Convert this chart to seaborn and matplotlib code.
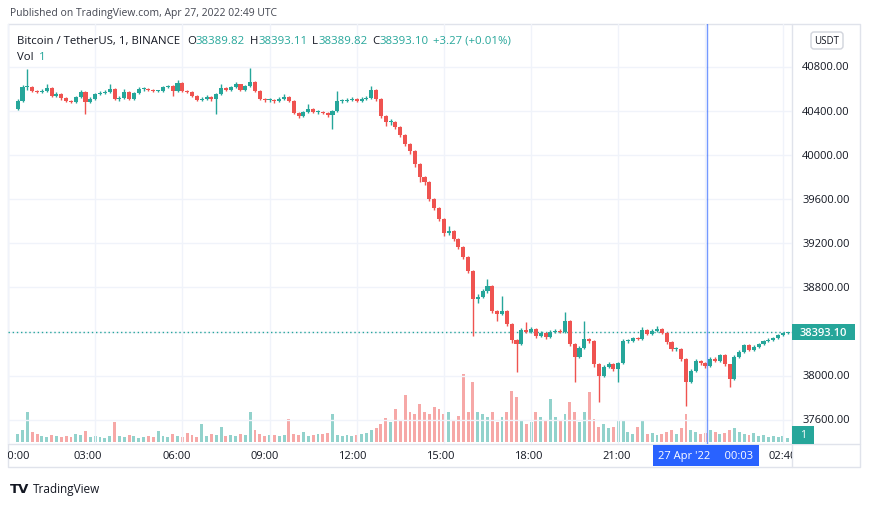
"""
plot.py — BTC/USDT 1-min chart (Binance, 26–27 Apr 2022) redrawn TradingView-style.
Candles are read off the published chart in 10-minute steps.
"""

import numpy as np
import pandas as pd
import matplotlib
matplotlib.use("Agg")
import matplotlib.pyplot as plt
from matplotlib.patches import Rectangle, FancyBboxPatch
import seaborn as sns


# ── Data ───────────────────────────────────────────────────────────────────

first_open = 40420
start = "2022-04-26 00:20"

closes = [
    40492, 40619, 40619, 40582, 40573, 40582, 40610, 40537, 40555, 40519,
    40492, 40483, 40528, 40573, 40483, 40510, 40555, 40564, 40573, 40601,
    40510, 40519, 40573, 40510, 40564, 40601, 40601, 40591, 40582, 40582,
    40619, 40628, 40582, 40655, 40582, 40573, 40537, 40501, 40510, 40528,
    40510, 40555, 40610, 40591, 40619, 40646, 40591, 40628, 40664, 40582,
    40510, 40501, 40501, 40492, 40510, 40528, 40492, 40383, 40356, 40392,
    40419, 40392, 40392, 40383, 40365, 40401, 40492, 40492, 40501, 40510,
    40492, 40510, 40519, 40591, 40510, 40356, 40301, 40301, 40256, 40183,
    40102, 40038, 39920, 39802, 39757, 39603, 39521, 39421, 39294, 39312,
    39240, 39168, 39077, 38950, 38696, 38714, 38768, 38814, 38587, 38560,
    38587, 38469, 38324, 38288, 38415, 38397, 38424, 38360, 38387, 38351,
    38397, 38406, 38397, 38496, 38288, 38170, 38251, 38333, 38315, 38106,
    37997, 38079, 38106, 38061, 38115, 38315, 38315, 38342, 38333, 38415,
    38378, 38406, 38424, 38387, 38306, 38242, 38242, 38152, 37943, 38043,
    38134, 38115, 38088, 38152, 38134, 38188, 38106, 37970, 38170, 38215,
    38279, 38233, 38260, 38288, 38315, 38324, 38342, 38369, 38387, 38393.10,
]

highs = [
    40510, 40640, 40780, 40630, 40595, 40600, 40646, 40615, 40570, 40565,
    40530, 40505, 40540, 40590, 40580, 40525, 40565, 40580, 40590, 40646,
    40610, 40535, 40601, 40580, 40575, 40615, 40615, 40610, 40600, 40595,
    40630, 40640, 40635, 40682, 40660, 40595, 40580, 40545, 40525, 40546,
    40540, 40565, 40646, 40620, 40630, 40660, 40650, 40640, 40790, 40670,
    40590, 40520, 40515, 40510, 40525, 40555, 40535, 40500, 40395, 40405,
    40464, 40425, 40410, 40400, 40395, 40410, 40582, 40510, 40520, 40525,
    40520, 40525, 40535, 40628, 40600, 40520, 40365, 40330, 40310, 40265,
    40195, 40110, 40045, 39930, 39815, 39765, 39615, 39530, 39430, 39358,
    39325, 39250, 39180, 39085, 38960, 38740, 38790, 38877, 38820, 38600,
    38723, 38600, 38480, 38335, 38430, 38487, 38440, 38435, 38405, 38395,
    38410, 38420, 38425, 38578, 38505, 38295, 38265, 38496, 38345, 38320,
    38115, 38095, 38120, 38115, 38125, 38330, 38335, 38355, 38350, 38442,
    38420, 38420, 38451, 38430, 38395, 38315, 38260, 38250, 38160, 38060,
    38150, 38145, 38125, 38170, 38165, 38200, 38195, 38110, 38185, 38230,
    38290, 38285, 38275, 38300, 38325, 38340, 38355, 38380, 38400, 38400,
]

lows = [
    40410, 40485, 40590, 40570, 40560, 40565, 40575, 40528, 40525, 40505,
    40480, 40470, 40475, 40520, 40374, 40470, 40500, 40545, 40555, 40565,
    40500, 40495, 40510, 40500, 40505, 40555, 40585, 40580, 40570, 40570,
    40575, 40605, 40537, 40575, 40570, 40560, 40525, 40490, 40490, 40500,
    40495, 40374, 40545, 40580, 40585, 40610, 40580, 40585, 40620, 40570,
    40500, 40485, 40485, 40475, 40485, 40500, 40480, 40370, 40340, 40345,
    40385, 40380, 40375, 40370, 40350, 40238, 40395, 40475, 40480, 40490,
    40480, 40485, 40500, 40510, 40495, 40340, 40265, 40275, 40235, 40165,
    40080, 40015, 39895, 39757, 39730, 39580, 39500, 39400, 39270, 39280,
    39220, 39145, 39055, 38930, 38360, 38660, 38700, 38750, 38570, 38500,
    38550, 38450, 38300, 38034, 38280, 38385, 38385, 38345, 38350, 38335,
    38340, 38385, 38385, 38390, 38270, 37943, 38160, 38240, 38295, 38080,
    37761, 37985, 38065, 38045, 37943, 38105, 38300, 38305, 38320, 38325,
    38365, 38370, 38395, 38375, 38290, 38225, 38225, 38130, 37725, 37930,
    38035, 38100, 38070, 38080, 38120, 38125, 38090, 37898, 37960, 38160,
    38205, 38220, 38225, 38250, 38280, 38305, 38315, 38335, 38360, 38380,
]

# relative volume (bar height)
volumes = [
    8, 12, 30, 10, 8, 6, 5, 7, 6, 5,
    6, 5, 8, 7, 11, 5, 6, 5, 4, 6,
    20, 6, 5, 7, 6, 4, 5, 6, 5, 11,
    6, 5, 8, 6, 5, 9, 7, 5, 18, 6,
    8, 7, 15, 6, 7, 6, 8, 7, 30, 12,
    8, 6, 7, 7, 6, 7, 23, 8, 7, 10,
    6, 7, 8, 8, 9, 28, 7, 6, 7, 6,
    7, 8, 9, 12, 14, 18, 24, 20, 33, 22,
    47, 30, 28, 38, 30, 28, 35, 33, 28, 30,
    22, 26, 68, 30, 60, 30, 28, 25, 30, 20,
    25, 30, 51, 45, 22, 18, 20, 30, 25, 22,
    43, 25, 22, 28, 40, 30, 20, 30, 50, 23,
    15, 18, 14, 15, 21, 21, 10, 8, 15, 21,
    8, 9, 7, 8, 10, 12, 8, 14, 28, 12,
    10, 8, 9, 12, 10, 8, 9, 12, 14, 10,
    8, 7, 9, 6, 7, 5, 6, 5, 6, 4,
]

price_ticks = [37600, 38000, 38400, 38800, 39200, 39600, 40000, 40400, 40800]
time_ticks = [0, 3, 6, 9, 12, 15, 18, 21, 24, 26 + 40 / 60]
time_labels = ["00:00", "03:00", "06:00", "09:00", "12:00", "15:00",
               "18:00", "21:00", "00:00", "02:40"]
cursor_hour = 24 + 3 / 60
cursor_label = "27 Apr '22     00:03"

UP, DOWN = "#26a69a", "#ef5350"
GRID, BORDER, TXT = "#f0f3fa", "#e0e3eb", "#131722"
W, H = 870, 506

# ── Setup ──────────────────────────────────────────────────────────────────

sns.set_theme(style="white")
plt.rcParams["font.family"] = ["Open Sans", "DejaVu Sans"]

times = pd.date_range(start, periods=len(closes), freq="10min")
df = pd.DataFrame({
    "t": (times - pd.Timestamp("2022-04-26")) / pd.Timedelta(hours=1),
    "o": [first_open] + closes[:-1],
    "h": highs, "l": lows, "c": closes, "v": volumes,
})
df["color"] = np.where(df.c >= df.o, UP, DOWN)
last = df.c.iloc[-1]

fig = plt.figure(figsize=(W / 100, H / 100), dpi=100)
fig.patch.set_facecolor("white")


def px_axes(x0, y0, x1, y1):
    """Axes placed by pixel box (top-left origin)."""
    a = fig.add_axes([x0 / W, 1 - y1 / H, (x1 - x0) / W, (y1 - y0) / H])
    a.patch.set_visible(False)
    return a


def pixel_layer():
    """Full-figure axes in pixel coords for frame and labels."""
    a = px_axes(0, 0, W, H)
    a.set_xlim(0, W)
    a.set_ylim(H, 0)
    a.axis("off")
    return a


bg = pixel_layer()

XLIM = (0.266, 26.98)
YLIM = (37380, 41190)

# ── Price pane ─────────────────────────────────────────────────────────────

ax = px_axes(8, 25, 792, 445)
ax_v = ax.twinx()
ax.set_zorder(ax_v.get_zorder() + 1)
ax.patch.set_visible(False)

ax.set_xlim(XLIM)
ax.set_ylim(YLIM)
ax.set_xticks(time_ticks)
ax.set_yticks(price_ticks)
ax.tick_params(length=0, labelbottom=False, labelleft=False)
ax.grid(True, color=GRID, lw=1)
for s in ax.spines.values():
    s.set_visible(False)

# volume overlay
ax_v.set_ylim(-2, 418)
ax_v.bar(df.t, df.v, width=0.1, color=df.color, alpha=0.5, lw=0)
ax_v.axis("off")

# candles
ax.vlines(df.t, df.l, df.h, colors=df.color, lw=1, zorder=3)
body_lo = np.minimum(df.o, df.c)
body_h = np.maximum((df.c - df.o).abs(), 8)
ax.bar(df.t, body_h, bottom=body_lo, width=0.14, color=df.color, lw=0, zorder=4)

ax.axhline(last, color=UP, lw=1, ls=(0, (1, 2)), zorder=2)
ax.axvline(cursor_hour, color="#2962ff", lw=1, alpha=0.65, zorder=5)

# ── Price scale ────────────────────────────────────────────────────────────

ax_p = px_axes(792, 25, 860, 445)
ax_p.set_ylim(YLIM)
ax_p.axis("off")
ytr = ax_p.get_yaxis_transform()
for p in price_ticks:
    if abs(p - last) < 150:
        continue
    ax_p.text(0.5, p, f"{p:.2f}", transform=ytr, ha="center", va="center",
              fontsize=8, color=TXT)
ax_p.add_patch(Rectangle((0, last - 72), 0.93, 145, transform=ytr,
                         fc=UP, ec="none"))
ax_p.text(0.465, last, f"{last:.2f}", transform=ytr, ha="center", va="center",
          fontsize=8, color="white", fontweight="semibold")

ax_pv = px_axes(792, 25, 860, 445)
ax_pv.set_ylim(ax_v.get_ylim())
ax_pv.axis("off")
vtr = ax_pv.get_yaxis_transform()
ax_pv.add_patch(Rectangle((0, volumes[-1] - 6), 0.33, 18, transform=vtr,
                          fc=UP, ec="none"))
ax_pv.text(0.165, volumes[-1] + 3, "1", transform=vtr, ha="center", va="center",
           fontsize=7.5, color="white", clip_on=True)

# ── Time scale ─────────────────────────────────────────────────────────────

ax_t = px_axes(8, 445, 792, 468)
ax_t.set_xlim(XLIM)
ax_t.set_ylim(0, 1)
ax_t.axis("off")
xtr = ax_t.get_xaxis_transform()
for h, lbl in zip(time_ticks, time_labels):
    if h < XLIM[0]:
        ax_t.annotate(lbl, xy=(0, 0.5), xycoords="axes fraction",
                      xytext=(-4.5, 0), textcoords="offset points",
                      ha="left", va="center", fontsize=8, color=TXT,
                      annotation_clip=False, clip_on=True)
    elif abs(h - cursor_hour) > 1:
        ax_t.text(h, 0.5, lbl, transform=xtr, ha="center", va="center",
                  fontsize=8, color=TXT, clip_on=True)
half = 53 / 29.27
ax_t.add_patch(Rectangle((cursor_hour - half, 0.04), 2 * half, 0.92,
                         transform=xtr, fc="#2962ff", ec="none", zorder=5))
ax_t.text(cursor_hour, 0.5, cursor_label, transform=xtr, ha="center",
          va="center", fontsize=8, color="white", zorder=6)

# ── Frame, legend, header (top layer, above the grid) ─────────────────────

bg.plot([8, 860, 860, 8, 8], [25, 25, 468, 468, 25], color=BORDER, lw=1)
bg.plot([792, 792], [25, 468], color=BORDER, lw=1)
bg.plot([8, 860], [445, 445], color=BORDER, lw=1)

top = pixel_layer()
top.set_zorder(10)
top.text(10, 13, "Published on TradingView.com, Apr 27, 2022 02:49 UTC",
         fontsize=7.5, color="#434651", va="center")

prev = top.text(17, 41, "Bitcoin / TetherUS, 1, BINANCE", fontsize=8.2,
                color=TXT, va="center")
pieces = [("O", TXT, 5), ("38389.82", UP, 0), ("H", TXT, 3.5),
          ("38393.11", UP, 0), ("L", TXT, 3.5), ("38389.82", UP, 0),
          ("C", TXT, 3.5), ("38393.10", UP, 0), ("+3.27 (+0.01%)", UP, 3.5)]
for txt, col, gap in pieces:
    prev = top.annotate(txt, xy=(1, 0.5), xycoords=prev, xytext=(gap, 0),
                        textcoords="offset points", fontsize=8.2, color=col,
                        va="center")
vol_lbl = top.text(17, 57, "Vol", fontsize=8.2, color=TXT, va="center")
top.annotate("1", xy=(1, 0.5), xycoords=vol_lbl, xytext=(4, 0),
             textcoords="offset points", fontsize=8.2, color=UP, va="center")

top.add_patch(FancyBboxPatch((811, 33), 32, 17,
                             boxstyle="round,pad=0,rounding_size=3",
                             fc="white", ec="#d1d4dc", lw=1))
top.text(827, 41.5, "USDT", fontsize=7, color=TXT, ha="center", va="center")

top.text(10, 490, "TV", fontsize=9.5, fontweight="heavy", color=TXT,
         va="center", family=["DejaVu Sans"])
top.text(33, 490, "TradingView", fontsize=8.5, color=TXT, va="center")

fig.savefig("out.png", dpi=100, facecolor="white")
